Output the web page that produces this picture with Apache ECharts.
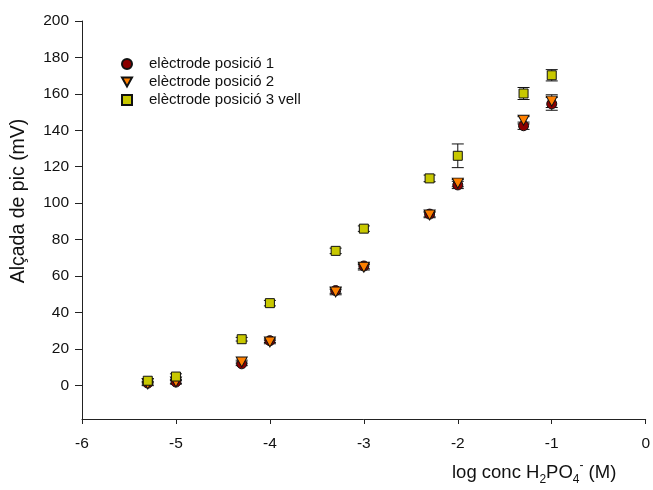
<!DOCTYPE html>
<html>
<head>
<meta charset="utf-8">
<script src="https://cdn.jsdelivr.net/npm/echarts@6/dist/echarts.min.js"></script>
<style>html,body{margin:0;padding:0;background:#fff}#c{width:653px;height:490px}</style>
</head>
<body>
<div id="c"></div>
<script>
const xVals = [-5.3, -5, -4.3, -4, -3.3, -3, -2.3, -2, -1.3, -1];
const seriesNames = ['elèctrode posició 1', 'elèctrode posició 2', 'elèctrode posició 3 vell'];
const pos1 = [1.2, 1.8, 11.8, 24.5, 52, 65.5, 94, 110, 142.5, 154.5];
const pos1Err = [1, 1, 1, 1, 1.5, 1.5, 1.5, 2, 2, 3.5];
const pos2 = [0.8, 1.8, 12.8, 23.8, 51.2, 64.8, 93.5, 111, 145.5, 156];
const pos2Err = [1, 1, 1, 1, 1.5, 1.5, 1.5, 2, 2, 3.5];
const pos3 = [2.5, 4.8, 25.3, 45.1, 73.8, 86, 113.6, 126, 160.2, 170.2];
const pos3Err = [1.2, 1.5, 1, 1.5, 1.5, 1.5, 1.8, 6.5, 3.3, 3.1];
const yTicks = [0, 20, 40, 60, 80, 100, 120, 140, 160, 180, 200];

const FONT = 'Arial, "Liberation Sans", sans-serif';
const triPath = 'path://M0,0 L10,0 L5,9 Z';

function pts(ys) { return xVals.map((x, i) => [x, ys[i]]); }
function errData(ys, es) { return xVals.map((x, i) => [x, ys[i], es[i]]); }
function errSeries(ys, es) {
  return {
    type: 'custom',
    data: errData(ys, es),
    encode: { x: 0, y: 1 },
    silent: true,
    renderItem: function (params, api) {
      const x = api.value(0), y = api.value(1), e = api.value(2);
      const lo = api.coord([x, y - e]);
      const hi = api.coord([x, y + e]);
      const hw = 6;
      const st = { stroke: '#111', lineWidth: 1 };
      return {
        type: 'group',
        children: [
          { type: 'line', shape: { x1: lo[0], y1: lo[1], x2: hi[0], y2: hi[1] }, style: st },
          { type: 'line', shape: { x1: lo[0] - hw, y1: lo[1], x2: lo[0] + hw, y2: lo[1] }, style: st },
          { type: 'line', shape: { x1: hi[0] - hw, y1: hi[1], x2: hi[0] + hw, y2: hi[1] }, style: st }
        ]
      };
    }
  };
}

const chart = echarts.init(document.getElementById('c'));
chart.setOption({
  backgroundColor: '#fff',
  animation: false,
  textStyle: { fontFamily: FONT },
  grid: { left: 82, right: 5, top: 21, bottom: 71 },
  xAxis: {
    type: 'value', min: -6, max: 0, interval: 1,
    axisLine: { onZero: false, lineStyle: { color: '#222', width: 1 } },
    axisTick: { length: 5, lineStyle: { color: '#222' } },
    axisLabel: { color: '#111', fontSize: 15.5, fontFamily: FONT, margin: 17 },
    splitLine: { show: false }
  },
  yAxis: {
    type: 'value', min: -18.5, max: 200,
    axisLine: { show: true, onZero: false, lineStyle: { color: '#222', width: 1 } },
    axisTick: { show: true, length: 7, customValues: yTicks, lineStyle: { color: '#222' } },
    axisLabel: { color: '#111', fontSize: 15.5, fontFamily: FONT, margin: 13, customValues: yTicks },
    splitLine: { show: false }
  },
  legend: {
    orient: 'vertical', left: 116, top: 50, itemWidth: 10, itemHeight: 10, itemGap: 0,
    textStyle: { fontSize: 15, lineHeight: 18, color: '#111', fontFamily: FONT, padding: [0, 0, 0, 12] },
    data: [
      { name: seriesNames[0], icon: 'circle' },
      { name: seriesNames[1], icon: triPath },
      { name: seriesNames[2], icon: 'rect' }
    ]
  },
  graphic: [
    {
      type: 'text', x: 19, y: 201, rotation: Math.PI / 2,
      style: { text: 'Alçada de pic (mV)', font: '19.5px ' + FONT, fill: '#111', textAlign: 'center', textVerticalAlign: 'middle' }
    },
    {
      type: 'text', left: 452, top: 460,
      style: {
        text: '{n|log conc H}{sub|2}{n|PO}{sub|4}{sup|-}{n| (M)}',
        rich: {
          n: { fontSize: 18.5, fontFamily: FONT, fill: '#111', lineHeight: 26, verticalAlign: 'middle' },
          sub: { fontSize: 12, fontFamily: FONT, fill: '#111', lineHeight: 12, verticalAlign: 'bottom' },
          sup: { fontSize: 12, fontFamily: FONT, fill: '#111', lineHeight: 12, verticalAlign: 'top' }
        }
      }
    }
  ],
  series: [
    errSeries(pos1, pos1Err),
    {
      name: seriesNames[0], type: 'scatter', data: pts(pos1), symbol: 'circle', symbolSize: 10,
      itemStyle: { color: '#8B0000', borderColor: '#111', borderWidth: 1, opacity: 1 }
    },
    errSeries(pos2, pos2Err),
    {
      name: seriesNames[1], type: 'scatter', data: pts(pos2), symbol: triPath, symbolSize: [11, 10],
      itemStyle: { color: '#FF8000', borderColor: '#111', borderWidth: 1, opacity: 1 }
    },
    errSeries(pos3, pos3Err),
    {
      name: seriesNames[2], type: 'scatter', data: pts(pos3), symbol: 'rect', symbolSize: 9,
      itemStyle: { color: '#C8C800', borderColor: '#111', borderWidth: 1, opacity: 1 }
    }
  ]
});
</script>
</body>
</html>
